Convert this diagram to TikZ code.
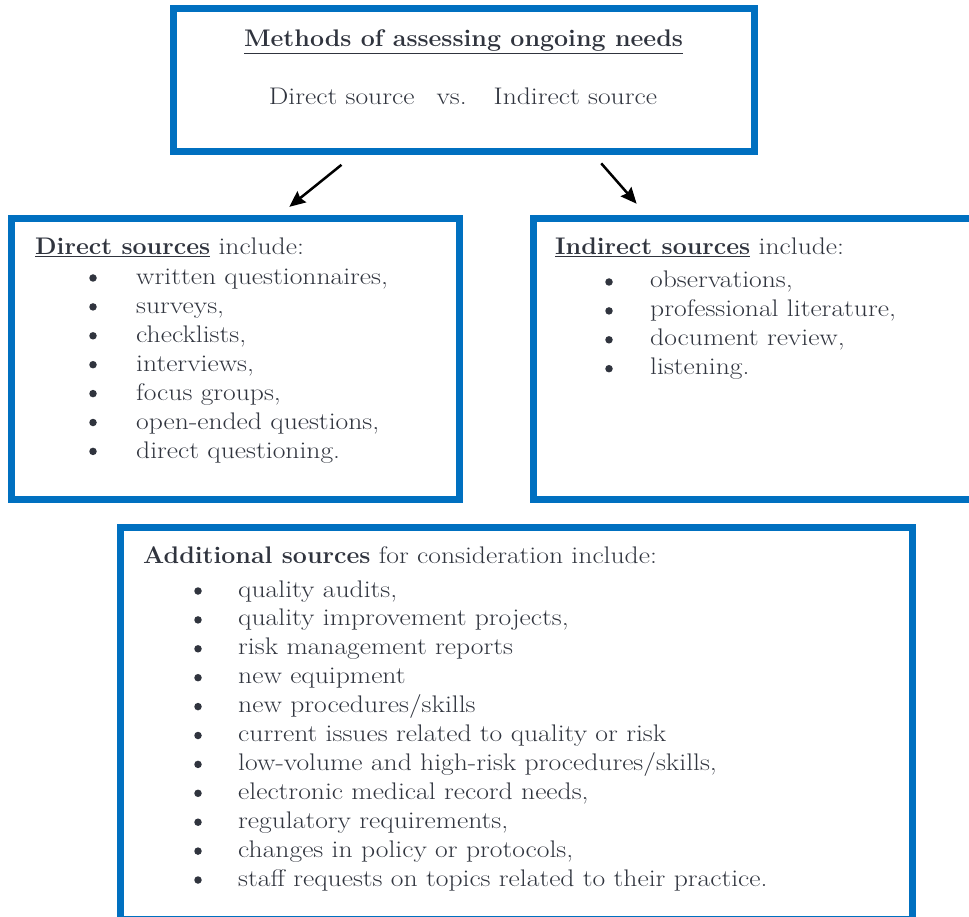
\documentclass[tikz,border=0pt]{standalone}
\usepackage{fontspec}
\setmainfont{Latin Modern Roman}[FakeStretch=1.15, BoldFeatures={FakeStretch=1.04}]
\usetikzlibrary{arrows.meta}

\definecolor{boxblue}{RGB}{0,112,192}
\definecolor{ink}{RGB}{48,52,62}

\begin{document}
\begin{tikzpicture}[x=1pt,y=-1pt,
  frame/.style={draw=boxblue, line width=7pt, rectangle, inner sep=0pt},
  txt/.style={anchor=base west, inner sep=0pt, text=ink, font=\fontsize{24}{29}\selectfont},
  dot/.style={circle, fill=ink, inner sep=0pt, minimum size=7.5pt},
  link/.style={-{Stealth[length=16pt,width=14pt,inset=2pt]}, line width=2.5pt, black}]

\useasboundingbox (0,0) rectangle (969,917);
\clip (0,0) rectangle (969,917);

% the four boxes
  \node[frame, minimum width=581pt, minimum height=143pt]   (methods)  at (463.5,80)    {};
  \node[frame, minimum width=448pt, minimum height=281pt]   (direct)   at (235.5,359)   {};
  \node[frame, minimum width=487pt, minimum height=281pt]   (indirect) at (776.5,359)   {};
  \node[frame, minimum width=792pt, minimum height=392pt]   (extra)    at (516.5,723.5) {};

% heading of the top box
  \node[txt, anchor=base] (title) at (463.5,47)
{\textbf{\underline{Methods of assessing ongoing needs}}};
  \node[txt, anchor=base] (versus) at (463,105)
{Direct source\hspace{22pt}vs.\hspace{27pt}Indirect source};

% the two arrows
  \draw[link, shorten <=15.7pt, shorten >=13pt]
    ([xshift=-109.8pt]methods.south) -- ([xshift=43.7pt]direct.north);
  \draw[link, shorten <=11.1pt, shorten >=15pt]
    ([xshift=130.4pt]methods.south) -- ([xshift=117pt]indirect.north west);

% direct sources
  \node[txt] (dhead) at (35,255) {\textbf{\underline{Direct sources}} include:};
  \foreach \entry [count=\k from 0] in {{written questionnaires,}, {surveys,},
      {checklists,}, {interviews,}, {focus groups,}, {open-ended questions,},
      {direct questioning.}}
  {
    \node[dot] (db\k) at (93,278+28.9*\k) {};
    \node[txt] (dt\k) at (136,285+28.9*\k) {\entry};
  }

% indirect sources
  \node[txt] (ihead) at (555,255) {\textbf{\underline{Indirect sources}} include:};
  \foreach \entry [count=\k from 0] in {{observations,}, {professional literature,},
      {document review,}, {listening.}}
  {
    \node[dot] (ib\k) at (609,282+28.9*\k) {};
    \node[txt] (it\k) at (650,288+28.9*\k) {\entry};
  }

% additional sources
  \node[txt] (ahead) at (143,563) {\textbf{Additional sources} for consideration include:};
  \foreach \entry [count=\k from 0] in {{quality audits,}, {quality improvement projects,},
      {risk management reports}, {new equipment}, {new procedures/skills},
      {current issues related to quality or risk},
      {low-volume and high-risk procedures/skills,},
      {electronic medical record needs,}, {regulatory requirements,},
      {changes in policy or protocols,},
      {staff requests on topics related to their practice.}}
  {
    \node[dot] (ab\k) at (198,591+28.9*\k) {};
    \node[txt] (at\k) at (238,597+28.9*\k) {\entry};
  }

\end{tikzpicture}
\end{document}
